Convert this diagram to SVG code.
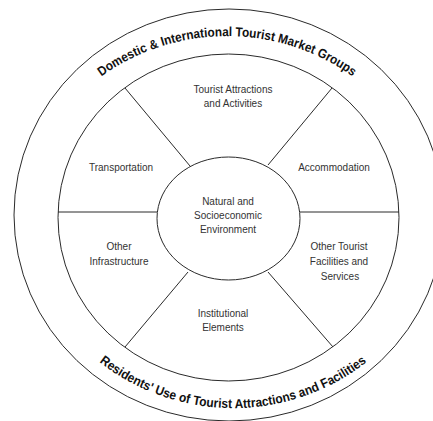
<svg xmlns="http://www.w3.org/2000/svg" width="433" height="421" viewBox="0 0 433 421">
  <style>
    .ring { fill: none; stroke: #2a2a2a; stroke-width: 1; }
    .spoke { stroke: #2a2a2a; stroke-width: 1; fill: none; }
    .label { font-family: "Liberation Sans", Arial, sans-serif; font-size: 10px; fill: #333; text-anchor: middle; }
    .band { font-family: "Liberation Sans", Arial, sans-serif; font-size: 13px; font-weight: bold; fill: #111; text-anchor: middle; }
  </style>
  <defs>
    <path id="arcTop" d="M 40 144 A 216 216 0 0 1 414 144"/>
    <path id="arcBottom" d="M 45 299.5 A 217 217 0 0 0 421 299.5"/>
  </defs>
  <rect width="433" height="421" fill="#fff"/>

  <!-- outer band: market groups and residents -->
  <g id="outer-band">
    <ellipse class="ring" cx="229" cy="215" rx="215" ry="206"/>
    <text class="band"><textPath href="#arcTop" startOffset="50%" textLength="268" lengthAdjust="spacingAndGlyphs">Domestic &amp; International Tourist Market Groups</textPath></text>
    <text class="band"><textPath href="#arcBottom" startOffset="50%" textLength="288" lengthAdjust="spacingAndGlyphs">Residents' Use of Tourist Attractions and Facilities</textPath></text>
  </g>

  <!-- ring of supply components -->
  <g id="supply-ring">
    <ellipse class="ring" cx="228.5" cy="217.5" rx="170.5" ry="163.5"/>
  </g>

  <!-- dividers between the sectors -->
  <g id="connectors">
    <line class="spoke" x1="125" y1="88" x2="190" y2="166"/>
    <line class="spoke" x1="332" y1="88" x2="268" y2="165"/>
    <line class="spoke" x1="58" y1="212" x2="157" y2="212"/>
    <line class="spoke" x1="300" y1="212" x2="399" y2="212"/>
    <line class="spoke" x1="125" y1="347" x2="188" y2="272"/>
    <line class="spoke" x1="333" y1="347" x2="268" y2="272"/>
  </g>

  <g id="environment">
    <ellipse class="ring" cx="228.5" cy="218.5" rx="71.5" ry="61.5"/>
    <text class="label" x="228" y="205">Natural and</text>
    <text class="label" x="228" y="219">Socioeconomic</text>
    <text class="label" x="228" y="233">Environment</text>
  </g>

  <g id="attractions">
    <text class="label" x="233" y="93">Tourist Attractions</text>
    <text class="label" x="233" y="107">and Activities</text>
  </g>

  <g id="transportation">
    <text class="label" x="121" y="171">Transportation</text>
  </g>

  <g id="accommodation">
    <text class="label" x="334" y="171">Accommodation</text>
  </g>

  <g id="infrastructure">
    <text class="label" x="119" y="250">Other</text>
    <text class="label" x="119" y="265">Infrastructure</text>
  </g>

  <g id="other-facilities">
    <text class="label" x="339" y="250">Other Tourist</text>
    <text class="label" x="339" y="265">Facilities and</text>
    <text class="label" x="340" y="280">Services</text>
  </g>

  <g id="institutional">
    <text class="label" x="223" y="317">Institutional</text>
    <text class="label" x="223" y="331">Elements</text>
  </g>
</svg>
